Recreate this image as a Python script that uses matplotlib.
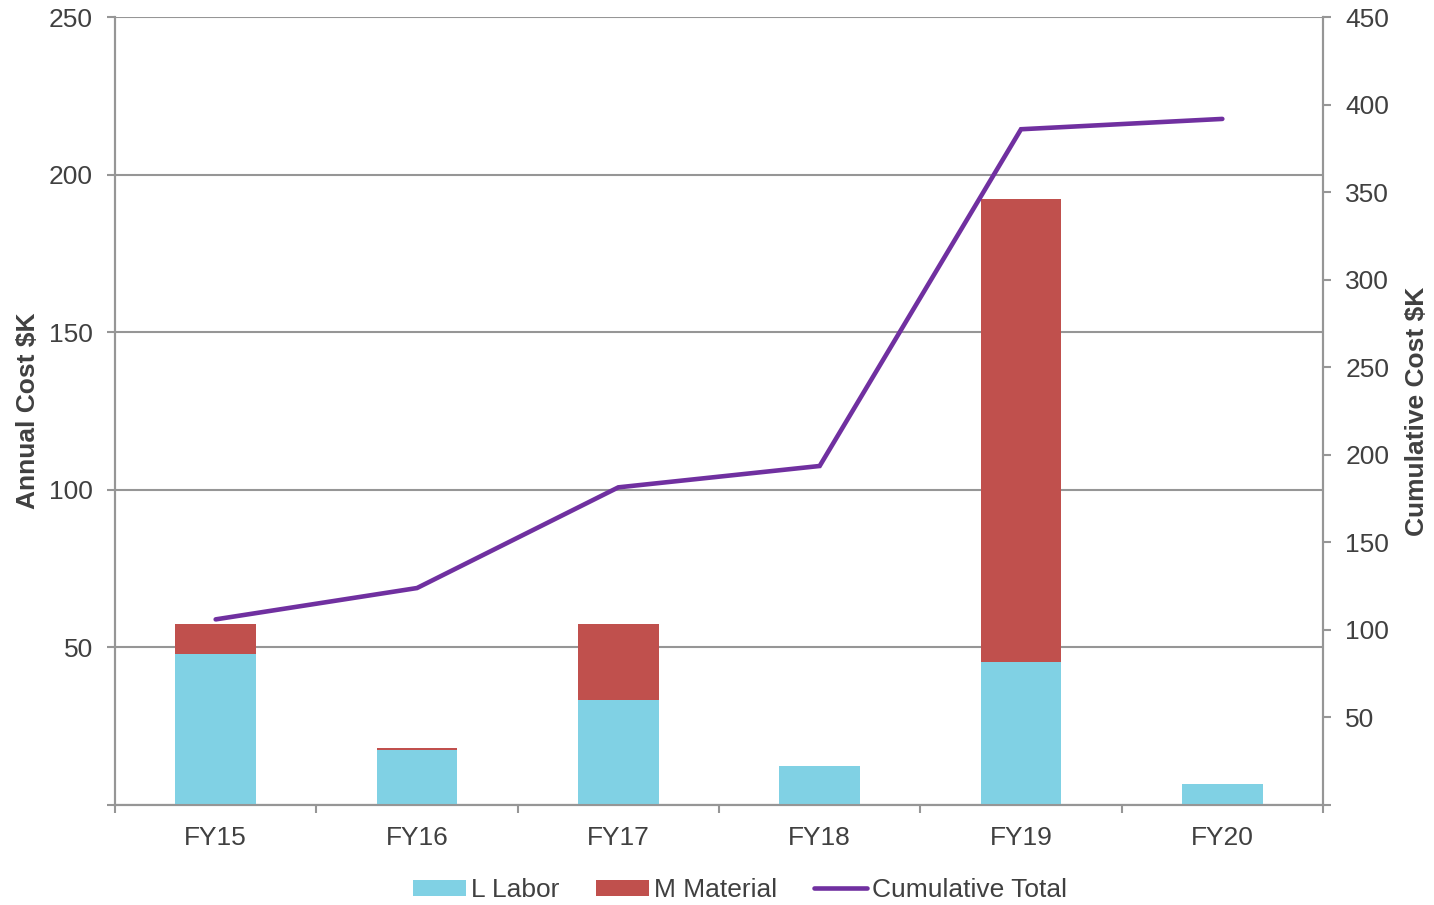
import numpy as np
import matplotlib
matplotlib.use("Agg")
import matplotlib.pyplot as plt
from matplotlib.ticker import MultipleLocator, FixedLocator

plt.rcParams['font.family'] = ['Liberation Sans', 'DejaVu Sans']

# annual cost ($K) by fiscal year
years = ["FY15", "FY16", "FY17", "FY18", "FY19", "FY20"]
labor = [47.9, 17.5, 33.2, 12.5, 45.5, 6.6]
material = [9.4, 0.6, 24.2, 0.0, 146.8, 0.0]
# running total ($K), right axis
cumulative = [106.0, 123.9, 181.4, 193.6, 385.9, 391.8]

LABOR_COLOR = "#80D1E4"
MATERIAL_COLOR = "#C0504D"
LINE_COLOR = "#7030A0"
GRID_COLOR = "#969696"
TEXT_COLOR = "#404040"
FS = 19

fig = plt.figure(figsize=(14.34, 9.05), dpi=100)
ax = fig.add_axes([115 / 1434, 1 - 805 / 905, (1323 - 115) / 1434, (805 - 17) / 905])
ax2 = ax.twinx()

x = np.arange(len(years))
b1 = ax.bar(x, labor, width=0.4, color=LABOR_COLOR, linewidth=0, zorder=3, label="L Labor")
b2 = ax.bar(x, material, width=0.4, bottom=labor, color=MATERIAL_COLOR, linewidth=0,
            zorder=3, label="M Material")
ln, = ax2.plot(x, cumulative, color=LINE_COLOR, lw=3.3, solid_capstyle="round",
               solid_joinstyle="miter", label="Cumulative Total")

ax.set_xlim(-0.5, len(years) - 0.5)
ax.set_ylim(0, 250)
ax2.set_ylim(0, 450)

# left axis
ax.yaxis.set_major_locator(MultipleLocator(50))
ax.set_yticklabels(["" if v == 0 else f"{v:g}" for v in ax.get_yticks()])
ax.grid(axis="y", color=GRID_COLOR, lw=1.5, zorder=0)
ax.set_axisbelow(True)
ax.tick_params(axis="y", direction="out", length=6, width=1.5, color=GRID_COLOR,
               labelsize=FS, labelcolor=TEXT_COLOR, pad=10)

# categories: labels at centers, ticks at boundaries
ax.set_xticks(x)
ax.set_xticklabels(years)
ax.tick_params(axis="x", which="major", length=0, labelsize=FS, labelcolor=TEXT_COLOR, pad=15)
ax.xaxis.set_minor_locator(FixedLocator(np.arange(-0.5, len(years), 1.0)))
ax.tick_params(axis="x", which="minor", direction="out", length=6, width=1.5, color=GRID_COLOR)

# right axis
ax2.yaxis.set_major_locator(MultipleLocator(50))
ax2.set_yticklabels(["" if v == 0 else f"{v:g}" for v in ax2.get_yticks()])
ax2.tick_params(axis="y", direction="out", length=6, width=1.5, color=GRID_COLOR,
                labelsize=FS, labelcolor=TEXT_COLOR, pad=10)

for a in (ax, ax2):
    for side in ("left", "right", "bottom"):
        a.spines[side].set_color(GRID_COLOR)
        a.spines[side].set_linewidth(1.5)
    a.spines["top"].set_visible(False)

ax.set_ylabel("Annual Cost $K", fontsize=FS, fontweight="bold", color=TEXT_COLOR, labelpad=6)
ax2.set_ylabel("Cumulative Cost $K", fontsize=FS, fontweight="bold", color=TEXT_COLOR,
               labelpad=11)

fig.legend([b1, b2, ln], ["L Labor", "M Material", "Cumulative Total"],
           loc="center", bbox_to_anchor=(740 / 1434, 1 - 890 / 905), ncol=3, frameon=False,
           fontsize=FS, labelcolor=TEXT_COLOR, handlelength=2.0, handleheight=0.55,
           handletextpad=0.2, columnspacing=1.4)

fig.savefig("out.png", dpi=100)
